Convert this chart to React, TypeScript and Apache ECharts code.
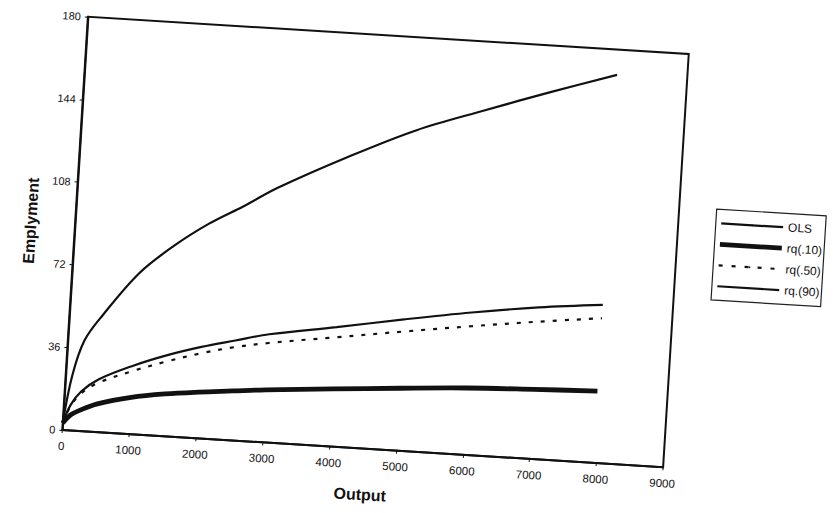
import React, { useEffect, useRef } from "react";
import * as echarts from "echarts";

const xValues = [0, 100, 250, 500, 1000, 1500, 2000, 2500, 3000, 4000, 5000, 6000, 7000, 7950];
const olsValues = [3, 11, 17.3, 23, 29.8, 35.3, 39.8, 43.5, 47.1, 52, 57.2, 62, 66, 68.8];
const rq10Values = [3, 6.5, 9.1, 12.3, 16, 18.4, 20.1, 21.5, 22.9, 25.1, 27.2, 29.1, 30.3, 31.3];
const rq50Values = [3, 10.5, 16.5, 21.5, 27.5, 32.6, 37, 40.6, 43.3, 47.6, 51.9, 56, 59.8, 63];
const rq90Values = [3, 24, 39.5, 51, 70, 83, 93.5, 102, 111, 126, 139.5, 150, 160, 169];

const seriesNames = ["OLS", "rq(.10)", "rq(.50)", "rq.(90)"];
const xTicks = { min: 0, max: 9000, interval: 1000 };
const yTicks = { min: 0, max: 180, interval: 36 };

const FONT = "'Liberation Sans', Arial, sans-serif";
const INK = "#111";

function pairs(ys: number[]) {
  return xValues.map((x, i) => [x, ys[i]]);
}

export default function App() {
  const ref = useRef<HTMLDivElement>(null);
  useEffect(() => {
    if (!ref.current) return;
    const chart = echarts.init(ref.current, undefined, { renderer: "svg" });
    const widths = [2.2, 4.8, 2.2, 2.2];
    const types: any[] = ["solid", "solid", [4, 8], "solid"];
    const legendTypes: any[] = ["solid", "solid", [4, 9], "solid"];
    const values = [olsValues, rq10Values, rq50Values, rq90Values];
    chart.setOption({
      animation: false,
      backgroundColor: "#fff",
      textStyle: { fontFamily: FONT, color: INK },
      grid: {
        left: 74.5,
        top: 35,
        width: 602,
        height: 414,
        show: true,
        borderColor: INK,
        borderWidth: 2,
        containLabel: false,
        outerBoundsMode: "none",
      },
      legend: {
        orient: "vertical",
        left: 714,
        top: 188,
        itemWidth: 62,
        itemHeight: 2,
        itemGap: 9,
        padding: [8, 2, 8, 3],
        borderColor: "#222",
        borderWidth: 1.2,
        backgroundColor: "#fff",
        textStyle: { fontFamily: FONT, fontSize: 12, color: INK },
        data: seriesNames.map((n, i) => ({
          name: n,
          lineStyle: { width: widths[i], type: legendTypes[i], color: INK },
        })),
      },
      xAxis: {
        type: "value",
        min: xTicks.min,
        max: xTicks.max,
        interval: xTicks.interval,
        name: "Output",
        nameLocation: "middle",
        nameGap: 38,
        nameTextStyle: { fontFamily: FONT, fontSize: 16, fontWeight: "bold", color: INK },
        axisLine: { show: true, lineStyle: { color: INK, width: 2 } },
        axisTick: { show: true, length: 3, lineStyle: { color: INK } },
        axisLabel: {
          fontFamily: FONT,
          fontSize: 11.5,
          color: INK,
          margin: 10,
          formatter: (v: number) => String(v),
        },
        splitLine: { show: false },
      },
      yAxis: {
        type: "value",
        min: yTicks.min,
        max: yTicks.max,
        interval: yTicks.interval,
        name: "Emplyment",
        nameLocation: "middle",
        nameGap: 36,
        nameTextStyle: { fontFamily: FONT, fontSize: 16, fontWeight: "bold", color: INK },
        axisLine: { show: true, lineStyle: { color: INK, width: 2 } },
        axisTick: { show: true, length: 3, lineStyle: { color: INK } },
        axisLabel: {
          fontFamily: FONT,
          fontSize: 11,
          color: INK,
          margin: 7,
          formatter: (v: number) => String(v),
        },
        splitLine: { show: false },
      },
      series: seriesNames.map((n, i) => ({
        name: n,
        type: "line",
        data: pairs(values[i]),
        symbol: "none",
        smooth: 0.35,
        lineStyle: { color: INK, width: widths[i], type: types[i] },
        itemStyle: { color: INK },
        z: i === 1 ? 3 : 2,
      })),
    });
    return () => chart.dispose();
  }, []);

  return (
    <div
      style={{
        position: "fixed",
        left: 0,
        top: 0,
        width: 834,
        height: 513,
        overflow: "hidden",
        background: "#fff",
      }}
    >
      <div
        style={{
          position: "absolute",
          left: 0,
          top: 0,
          width: 834,
          height: 513,
          transform: "rotate(3.55deg)",
          transformOrigin: "375.5px 242px",
        }}
      >
        <div ref={ref} style={{ width: 834, height: 513 }} />
      </div>
    </div>
  );
}
